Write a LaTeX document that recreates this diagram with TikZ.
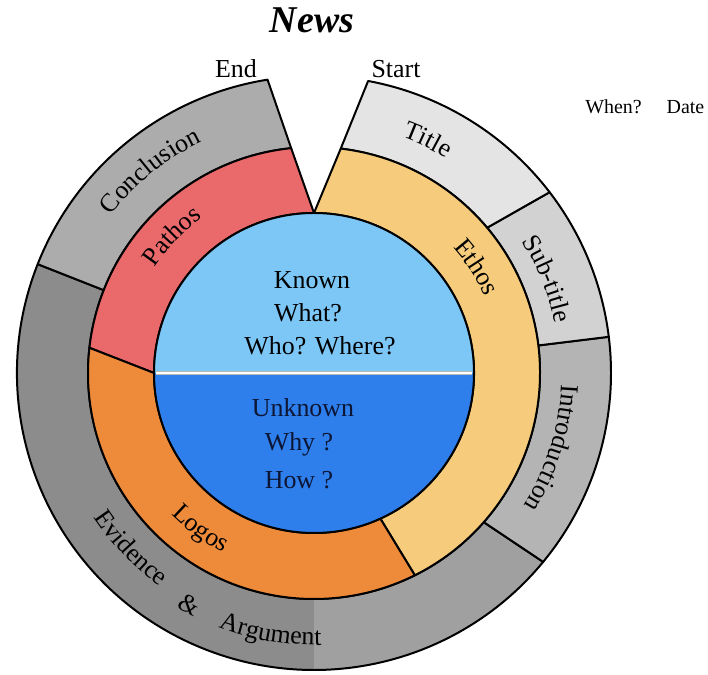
\documentclass[tikz,border=0pt]{standalone}
\usepackage{fontspec}
\setmainfont{Liberation Serif}
\usetikzlibrary{decorations.text}

% ring colours
\definecolor{knowncol}{RGB}{125,199,247}
\definecolor{unknowncol}{RGB}{46,126,236}
\definecolor{pathoscol}{RGB}{234,106,108}
\definecolor{ethoscol}{RGB}{246,204,124}
\definecolor{logoscol}{RGB}{238,139,58}
\definecolor{conclcol}{RGB}{172,172,172}
\definecolor{titlecol}{RGB}{228,228,228}
\definecolor{subcol}{RGB}{210,210,210}
\definecolor{introcol}{RGB}{180,180,180}
\definecolor{evidcol}{RGB}{140,140,140}
\definecolor{evidlight}{RGB}{160,160,160}
\definecolor{navytext}{RGB}{12,22,52}

\DeclareRobustCommand\ringfont{\fontsize{26}{30}\selectfont}
% label running clockwise (letters upright towards the outside)
\newcommand\cwlabel[3]{\path[decorate,decoration={text along path,text={|\ringfont|#3},text align=center}]
  (#1+40:#2) arc[start angle=#1+40, end angle=#1-40, radius=#2];}
% label running counter-clockwise (letters upright towards the centre)
\newcommand\ccwlabel[3]{\path[decorate,decoration={text along path,text={|\ringfont|#3},text align=center}]
  (#1-40:#2) arc[start angle=#1-40, end angle=#1+40, radius=#2];}

\tikzset{
  seg/.style={draw=black, line width=2, line join=round},
  inner/.style={font=\fontsize{26}{30}\selectfont, inner sep=0pt, anchor=base},
  outer/.style={font=\fontsize{26}{30}\selectfont, inner sep=0pt, anchor=base},
}

\begin{document}
\begin{tikzpicture}[x=1bp, y=1bp]
\useasboundingbox (-314,-302) rectangle (394,373);

% outer ring: parts of the article
\fill[evidcol] (158.5:226) -- (158.5:297) arc[start angle=158.5, end angle=270, radius=297]
  -- (270:226) arc[start angle=270, end angle=158.5, radius=226] -- cycle;
\fill[evidlight] (270:226) -- (270:297) arc[start angle=270, end angle=320.5, radius=297]
  -- (318.7:226) arc[start angle=318.7, end angle=270, radius=226] -- cycle;
\path[seg] (158.5:226) -- (158.5:297) arc[start angle=158.5, end angle=320.5, radius=297]
  -- (318.7:226) arc[start angle=318.7, end angle=158.5, radius=226] -- cycle;
\path[seg, fill=conclcol] (95.8:226) -- (99:297) arc[start angle=99, end angle=158.5, radius=297]
  -- (158.5:226) arc[start angle=158.5, end angle=95.8, radius=226] -- cycle;
\path[seg, fill=introcol] (-41.3:226) -- (-39.5:297) arc[start angle=-39.5, end angle=7, radius=297]
  -- (7:226) arc[start angle=7, end angle=-41.3, radius=226] -- cycle;
\path[seg, fill=subcol] (7:226) -- (7:297) arc[start angle=7, end angle=37.5, radius=297]
  -- (40:226) arc[start angle=40, end angle=7, radius=226] -- cycle;
\path[seg, fill=titlecol] (40:226) -- (37.5:297) arc[start angle=37.5, end angle=79.5, radius=297]
  -- (83.2:226) arc[start angle=83.2, end angle=40, radius=226] -- cycle;

% middle ring: modes of persuasion
\path[seg, fill=pathoscol] (90:160) -- (95.8:226) arc[start angle=95.8, end angle=173.6, radius=226]
  -- (180:160) arc[start angle=180, end angle=90, radius=160] -- cycle;
\path[seg, fill=ethoscol] (90:160) -- (83.2:226) arc[start angle=83.2, end angle=-63.5, radius=226]
  -- (-65.5:160) arc[start angle=-65.5, end angle=90, radius=160] -- cycle;
\path[seg, fill=logoscol] (173.6:226) arc[start angle=173.6, end angle=296.5, radius=226]
  -- (294.5:160) arc[start angle=294.5, end angle=180, radius=160] -- cycle;

% centre: known / unknown halves
\fill[knowncol] (180:160) arc[start angle=180, end angle=0, radius=160] -- cycle;
\fill[unknowncol] (180:160) arc[start angle=180, end angle=360, radius=160] -- cycle;
\draw[gray!55, line width=4] (180:158) -- (0:158);
\draw[white, line width=2] (180:158) -- (0:158);
\draw[seg] (0,0) circle[radius=160];

% centre texts
\node[inner] (known) at (-2,84) {Known};
\node[inner] (what) at (-6,51) {What?};
\node[inner] (who) at (6,18) {Who? Where?};
\node[inner, text=navytext] (unknown) at (-11,-44) {Unknown};
\node[inner, text=navytext] (why) at (-15,-77) {Why ?};
\node[inner, text=navytext] (how) at (-15,-115) {How ?};

% ring labels
\cwlabel{136}{191}{Pathos}
\cwlabel{33}{187}{Ethos}
\ccwlabel{234}{201}{Logos}
\cwlabel{129}{257}{Conclusion}
\cwlabel{64}{252}{Title}
\cwlabel{22}{246}{Sub-title}
\cwlabel{-17.5}{248}{Introduction}
\ccwlabel{223.7}{263}{Evidence}
\ccwlabel{241.8}{272}{{\&}}
\ccwlabel{260.5}{272}{Argument}

% texts round the picture
\node[inner sep=0pt, anchor=base, font=\fontsize{38}{44}\selectfont\bfseries\itshape] (news) at (-2,340) {News};
\node[outer] (endlbl) at (-78,295) {End};
\node[outer] (startlbl) at (82,295) {Start};
\node[inner sep=0pt, anchor=base, font=\fontsize{20}{24}\selectfont] (when) at (299.5,259) {When?};
\node[inner sep=0pt, anchor=base, font=\fontsize{20}{24}\selectfont] (date) at (371.5,259) {Date};
\end{tikzpicture}
\end{document}
